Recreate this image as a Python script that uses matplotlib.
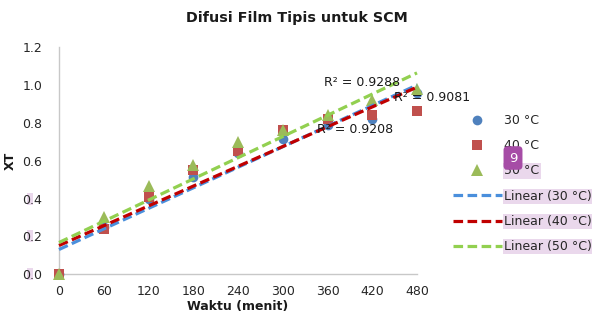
import matplotlib
matplotlib.use('Agg')
import matplotlib.pyplot as plt
import numpy as np
from matplotlib.patches import Rectangle

# ---- data ----
times = [0, 60, 120, 180, 240, 300, 360, 420, 480]
xt_30 = [0, 0.25, 0.40, 0.515, 0.64, 0.715, 0.79, 0.82, 0.955]
xt_40 = [0, 0.24, 0.41, 0.55, 0.65, 0.76, 0.82, 0.84, 0.86]
xt_50 = [0, 0.30, 0.465, 0.575, 0.70, 0.76, 0.84, 0.92, 0.98]
series_labels = ['30 °C', '40 °C', '50 °C']
trend_labels = ['Linear (30 °C)', 'Linear (40 °C)', 'Linear (50 °C)']
r2_texts = ['R² = 0.9208', 'R² = 0.9081', 'R² = 0.9288']
r2_pos = [(397, 0.766), (500, 0.935), (406, 1.011)]
yticks = [0.0, 0.2, 0.4, 0.6, 0.8, 1.0, 1.2]

marker_colors = ['#4f81bd', '#c0504d', '#9bbb59']
trend_colors = ['#4a8fdc', '#c00000', '#92d050']
markers = ['o', 's', '^']
msizes = [7, 7.8, 8.8]

W, H = 592, 318
fig = plt.figure(figsize=(W / 100, H / 100), dpi=100)
x0, x1, ytop, ybot = 59, 417, 47, 274.3
ax = fig.add_axes([x0 / W, 1 - ybot / H, (x1 - x0) / W, (ybot - ytop) / H])

data = [xt_30, xt_40, xt_50]
t = np.array(times, dtype=float)
marker_handles = []
for i, ys in enumerate(data):
    h, = ax.plot(times, ys, linestyle='none', marker=markers[i], markersize=msizes[i],
                 color=marker_colors[i], markeredgewidth=0, clip_on=False, zorder=3 + i)
    marker_handles.append(h)

trend_handles = []
tt = np.array([0, 480], dtype=float)
for i, ys in enumerate(data):
    slope, inter = np.polyfit(t, np.array(ys), 1)
    h, = ax.plot(tt, slope * tt + inter, color=trend_colors[i], linewidth=2.3,
                 linestyle=(0, (3, 1.4)), dash_capstyle='butt', zorder=6 + i, clip_on=False)
    trend_handles.append(h)

for txt, (px, py) in zip(r2_texts, r2_pos):
    ax.text(px, py, txt, ha='center', va='center', fontsize=9, color='#1a1a1a',
            zorder=10, clip_on=False)

ax.set_xlim(0, 480)
ax.set_ylim(0, 1.2)
ax.set_xticks(times)
ax.set_xticklabels([str(v) for v in times])
ax.set_yticks(yticks)
ax.set_yticklabels(['%.1f' % v for v in yticks])
ax.tick_params(axis='both', length=0, labelsize=9, labelcolor='#262626')
ax.tick_params(axis='y', pad=12)
ax.tick_params(axis='x', pad=8)
for s in ['top', 'right']:
    ax.spines[s].set_visible(False)
ax.spines['left'].set_color('#c8c8c8')
ax.spines['bottom'].set_color('#c8c8c8')
ax.spines['left'].set_linewidth(1.0)
ax.spines['bottom'].set_linewidth(1.0)

ax.set_xlabel('Waktu (menit)', fontsize=9, fontweight='bold', labelpad=1.5, color='#1a1a1a')
ax.set_ylabel('XT', fontsize=9, fontweight='bold', labelpad=4, color='#1a1a1a')

fig.text(297 / W, 1 - 18 / H, 'Difusi Film Tipis untuk SCM', ha='center', va='center',
         fontsize=10.3, fontweight='bold', color='#1a1a1a')

# legend
leg = fig.legend(marker_handles + trend_handles, series_labels + trend_labels,
                 loc='upper left', bbox_to_anchor=(453 / W, 1 - 114 / H),
                 frameon=False, fontsize=9, handlelength=3.9, handletextpad=0.2,
                 labelspacing=0.98, borderpad=0, borderaxespad=0)
texts = leg.get_texts()
for k, tx in enumerate(texts):
    tx.set_color('#262626')
    if k >= 2:
        tx.set_bbox(dict(facecolor='#ead8ec', edgecolor='none', pad=0.8))

# purple badge
fig.text(513 / W, 1 - 158 / H, '9', ha='center', va='center', fontsize=9.5, color='white',
         bbox=dict(boxstyle='round,pad=0.4,rounding_size=0.3', facecolor='#a64ca6',
                   edgecolor='none'), zorder=20)

# small lavender highlights behind the leading "0" of low y tick labels
for yv in [0.0, 0.2, 0.4]:
    ypix = ybot - yv / 1.2 * (ybot - ytop)
    fig.patches.append(Rectangle((27 / W, 1 - (ypix + 6) / H), 6 / W, 12 / H,
                                 transform=fig.transFigure, facecolor='#ead8ec',
                                 edgecolor='none', zorder=-1))

fig.savefig('out.png', dpi=100)
